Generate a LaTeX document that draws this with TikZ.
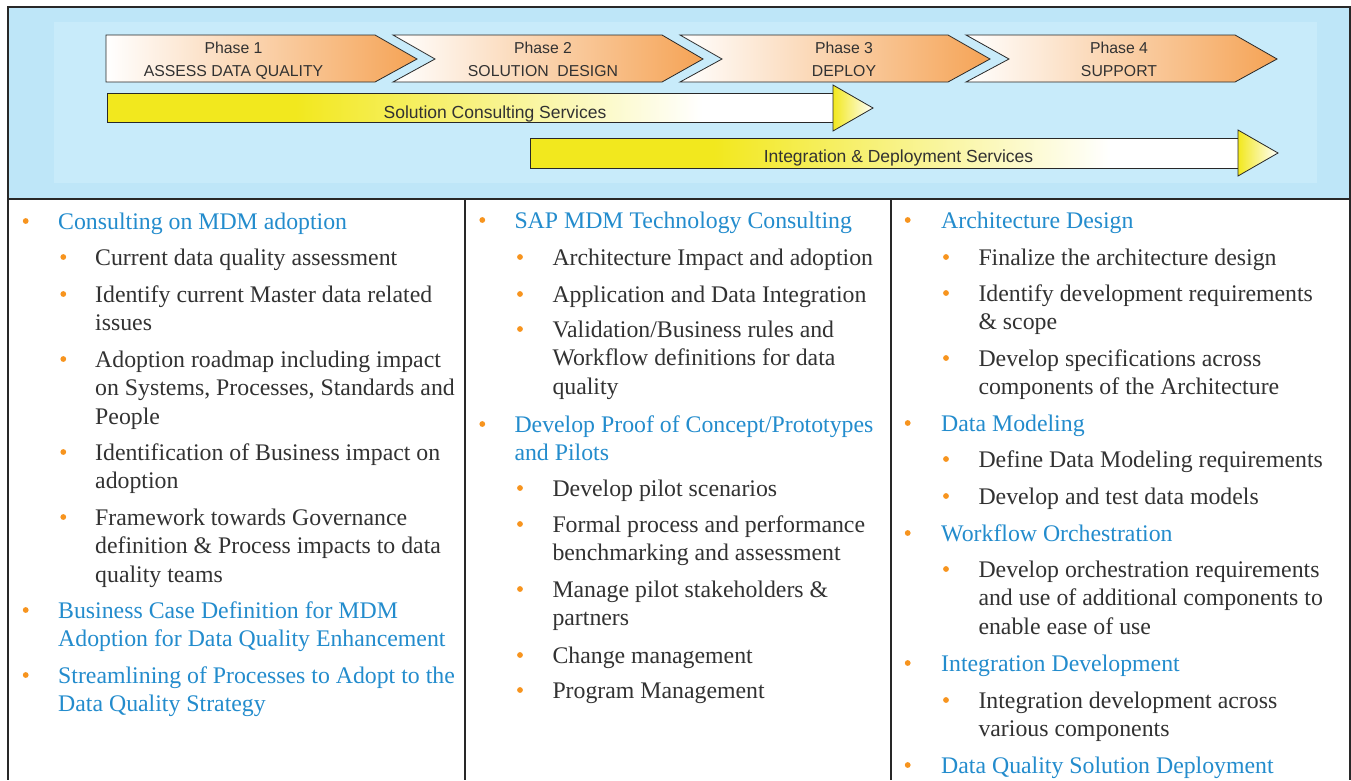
\documentclass[tikz,border=0pt]{standalone}
\usepackage{fontspec}
\setmainfont{Liberation Serif}
\newfontfamily\arialf{Liberation Sans}
\definecolor{skyA}{RGB}{190,230,248}
\definecolor{skyB}{RGB}{200,235,250}
\definecolor{orng}{RGB}{245,163,85}
\definecolor{yel}{RGB}{242,232,30}
\definecolor{hblue}{RGB}{35,140,205}
\definecolor{txt}{RGB}{50,50,50}
\definecolor{bul}{RGB}{247,148,30}
\definecolor{frame}{RGB}{40,40,40}
\pgfdeclarehorizontalshading{yelbar}{100bp}{color(0bp)=(yel); color(25bp)=(yel); color(38bp)=(yel); color(66bp)=(white); color(100bp)=(white)}
\newcommand\twoc[2]{\vtop{\halign{\hfil##\hfil\cr#1\cr#2\crcr}}}
\newcommand\ml[1]{\vtop{\halign{##\hfil\cr#1\crcr}}}
\begin{document}
\begin{tikzpicture}[x=1pt,y=-1pt,
  chev/.style={draw=frame,line width=0.8pt,left color=white,right color=orng,shading angle=90},
  ybar/.style={draw=frame,line width=0.8pt,shading=yelbar},
  yhead/.style={draw=frame,line width=0.8pt,left color=yel,right color=white},
  phtxt/.style={anchor=base,inner sep=0pt,text=txt,font=\arialf\fontsize{15.8}{22.7}\selectfont},
  svtxt/.style={anchor=base,inner sep=0pt,text=txt,font=\arialf\fontsize{17.5}{21}\selectfont},
  hone/.style={anchor=base west,inner sep=0pt,text=hblue,font=\fontsize{23.8}{28.6}\selectfont},
  htwo/.style={anchor=base west,inner sep=0pt,text=txt,font=\fontsize{23.8}{28.6}\selectfont},
  colline/.style={draw=frame,line width=2pt}]
\useasboundingbox (0,0) rectangle (1351,780);
\fill[white] (0,0) rectangle (1351,780);
% header
\fill[skyA] (8,7) rectangle (1350,199);
\fill[skyB] (54,22) rectangle (1317,183);
% phase chevrons
\path[chev] (106,35) -- (375,35) -- (417,59) -- (375,82) -- (106,82) -- cycle;
\path[chev] (393,35) -- (662,35) -- (703,59) -- (662,82) -- (393,82) -- (435,59) -- cycle;
\path[chev] (680,35) -- (948,35) -- (990,59) -- (948,82) -- (680,82) -- (722,59) -- cycle;
\path[chev] (966,35) -- (1235,35) -- (1277,59) -- (1235,82) -- (966,82) -- (1009,59) -- cycle;
\node[phtxt] (ph1) at (233.5,53.3) {\twoc{Phase 1}{ASSESS DATA QUALITY}};
\node[phtxt] (ph2) at (543,53.3) {\twoc{Phase 2}{SOLUTION\ \ DESIGN}};
\node[phtxt] (ph3) at (844,53.3) {\twoc{Phase 3}{DEPLOY}};
\node[phtxt] (ph4) at (1119,53.3) {\twoc{Phase 4}{SUPPORT}};
% service bars
\path[ybar] (107,93) rectangle (833,122);
\path[yhead] (833,85) -- (873,108) -- (833,131) -- cycle;
\node[svtxt] (scs) at (495,118.3) {Solution Consulting Services};
\path[ybar] (530,138) rectangle (1238,168);
\path[yhead] (1238,130) -- (1278,153) -- (1238,176) -- cycle;
\node[svtxt] (ids) at (898.5,162.3) {Integration \& Deployment Services};
% frame
\draw[colline] (8,7) -- (1350,7);
\draw[colline] (8,199) -- (1350,199);
\draw[colline] (8,6) -- (8,780);
\draw[colline] (1350,6) -- (1350,780);
\draw[colline] (465,199) -- (465,780);
\draw[colline] (891,199) -- (891,780);
% bullets
\foreach \x/\y in {25.7/229,25.7/618,25.7/683, 482.3/228,482.3/432, 907.7/228,907.7/431,907.7/541,907.7/671,907.7/773}
  \fill[bul] (\x,\y-8) circle (2.9pt);
\foreach \x/\y in {63.3/265,63.3/302,63.3/367,63.3/460,63.3/525, 520/265,520/302,520/337,520/496,520/532,520/597,520/663,520/698, 946/265,946/301,946/366,946/467,946/504,946/577,946/708}
  \fill[bul] (\x,\y-8) circle (2.9pt);
% left column
\node[hone] (a1) at (58,229) {Consulting on MDM adoption};
\node[htwo] (a2) at (95,265) {Current data quality assessment};
\node[htwo] (a3) at (95,302) {\ml{Identify current Master data related\cr issues}};
\node[htwo] (a4) at (95,367) {\ml{Adoption roadmap including impact\cr on Systems, Processes, Standards and\cr People}};
\node[htwo] (a5) at (95,460) {\ml{Identification of Business impact on\cr adoption}};
\node[htwo] (a6) at (95,525) {\ml{Framework towards Governance\cr definition \& Process impacts to data\cr quality teams}};
\node[hone] (a7) at (58,618) {\ml{Business Case Definition for MDM\cr Adoption for Data Quality Enhancement}};
\node[hone] (a8) at (58,683) {\ml{Streamlining of Processes to Adopt to the\cr Data Quality Strategy}};
% middle column
\node[hone] (b1) at (514.3,228) {SAP MDM Technology Consulting};
\node[htwo] (b2) at (552.3,265) {Architecture Impact and adoption};
\node[htwo] (b3) at (552.3,302) {Application and Data Integration};
\node[htwo] (b4) at (552.3,337) {\ml{Validation/Business rules and\cr Workflow definitions for data\cr quality}};
\node[hone] (b5) at (514.3,432) {\ml{Develop Proof of Concept/Prototypes\cr and Pilots}};
\node[htwo] (b6) at (552.3,496) {Develop pilot scenarios};
\node[htwo] (b7) at (552.3,532) {\ml{Formal process and performance\cr benchmarking and assessment}};
\node[htwo] (b8) at (552.3,597) {\ml{Manage pilot stakeholders \&\cr partners}};
\node[htwo] (b9) at (552.3,663) {Change management};
\node[htwo] (b10) at (552.3,698) {Program Management};
% right column
\node[hone] (c1) at (941,228) {Architecture Design};
\node[htwo] (c2) at (978.3,265) {Finalize the architecture design};
\node[htwo] (c3) at (978.3,301) {\ml{Identify development requirements\cr \& scope}};
\node[htwo] (c4) at (978.3,366) {\ml{Develop specifications across\cr components of the Architecture}};
\node[hone] (c5) at (941,431) {Data Modeling};
\node[htwo] (c6) at (978.3,467) {Define Data Modeling requirements};
\node[htwo] (c7) at (978.3,504) {Develop and test data models};
\node[hone] (c8) at (941,541) {Workflow Orchestration};
\node[htwo] (c9) at (978.3,577) {\ml{Develop orchestration requirements\cr and use of additional components to\cr enable ease of use}};
\node[hone] (c10) at (941,671) {Integration Development};
\node[htwo] (c11) at (978.3,708) {\ml{Integration development across\cr various components}};
\node[hone] (c12) at (941,773) {Data Quality Solution Deployment};
\end{tikzpicture}
\end{document}
